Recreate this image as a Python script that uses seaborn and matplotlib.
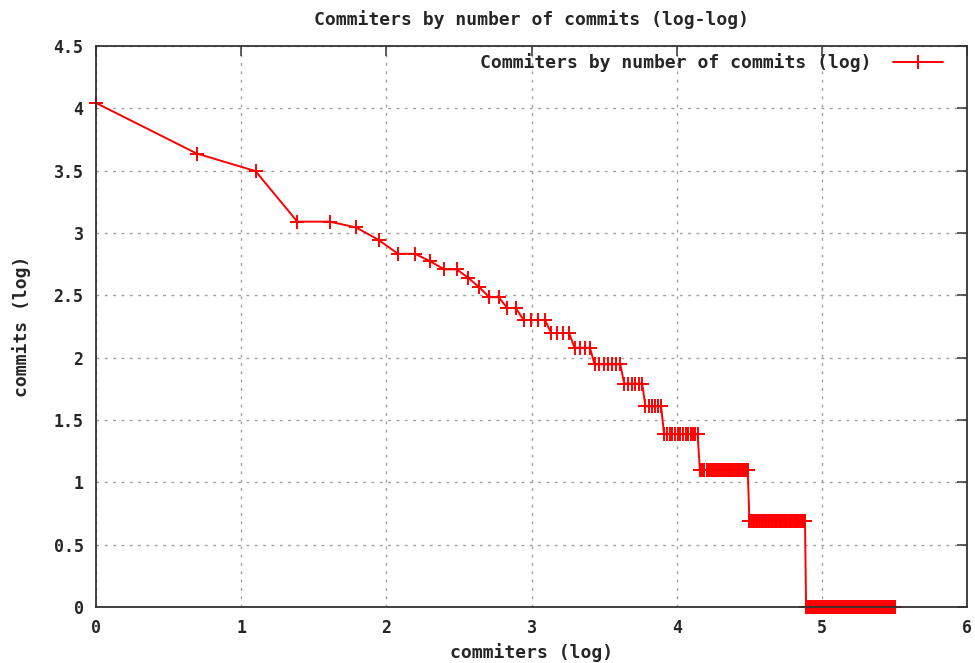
import numpy as np
import pandas as pd
import matplotlib
matplotlib.use('Agg')
import matplotlib.pyplot as plt
from matplotlib.ticker import FuncFormatter
import seaborn as sns

# commits per committer (levels) and how many committers have that many commits
commit_levels = [57, 38, 33, 22, 21, 19, 17, 16, 15, 14, 13, 12, 11, 10, 9, 8, 7, 6, 5, 4, 3, 2, 1]
committers_per_level = [1, 1, 1, 2, 1, 1, 2, 1, 2, 1, 1, 2, 2, 4, 4, 4, 7, 6, 6, 14, 26, 43, 114]

x_ticks = [0, 1, 2, 3, 4, 5, 6]
y_ticks = [0, 0.5, 1, 1.5, 2, 2.5, 3, 3.5, 4, 4.5]

title = 'Commiters by number of commits (log-log)'
series_name = 'Commiters by number of commits (log)'
x_label = 'commiters (log)'
y_label = 'commits (log)'

commits = np.repeat(commit_levels, committers_per_level)
rank = np.arange(1, len(commits) + 1)
df = pd.DataFrame({'rank_log': np.log(rank), 'commits_log': np.log(commits)})

sns.set_theme(style='white')
plt.rcParams['font.family'] = ['DejaVu Sans Mono', 'DejaVu Sans']
plt.rcParams['font.weight'] = 'bold'

fig = plt.figure(figsize=(9.75, 6.63), dpi=100)
ax = fig.add_axes([0.0985, 0.0845, 0.8935, 0.8461])

sns.lineplot(data=df, x='rank_log', y='commits_log', ax=ax, color='red',
             linewidth=1.4, marker='+', markersize=10, markeredgewidth=1.4,
             markeredgecolor='red', sort=False, estimator=None,
             label=series_name, clip_on=False, zorder=2)

ax.set_xlim(0, 6)
ax.set_ylim(0, 4.5)
ax.set_xticks(x_ticks)
ax.set_yticks(y_ticks)
fmt = FuncFormatter(lambda v, p: '%g' % v)
ax.xaxis.set_major_formatter(fmt)
ax.yaxis.set_major_formatter(fmt)

ax.grid(True, color='#a0a0a0', linestyle=(0, (2, 4)), linewidth=1)
ax.set_axisbelow(True)
for s in ax.spines.values():
    s.set_color('#333333')
    s.set_linewidth(1.3)
    s.set_zorder(3)
ax.tick_params(direction='in', length=7, width=1.1, color='#333333',
               top=True, right=True, labelsize=12, pad=9)
for lab in ax.get_xticklabels() + ax.get_yticklabels():
    lab.set_fontweight('bold')

ax.set_title(title, fontsize=13, fontweight='bold', pad=15)
ax.set_xlabel(x_label, fontsize=13, fontweight='bold', labelpad=4)
ax.set_ylabel(y_label, fontsize=13, fontweight='bold', labelpad=16)

leg = ax.legend(loc='upper right', bbox_to_anchor=(0.981, 1.0), frameon=False,
                markerfirst=False, handlelength=2.8, borderaxespad=0.0,
                handletextpad=1.2, prop={'size': 13, 'weight': 'bold'})

fig.savefig('out.png', dpi=100)
